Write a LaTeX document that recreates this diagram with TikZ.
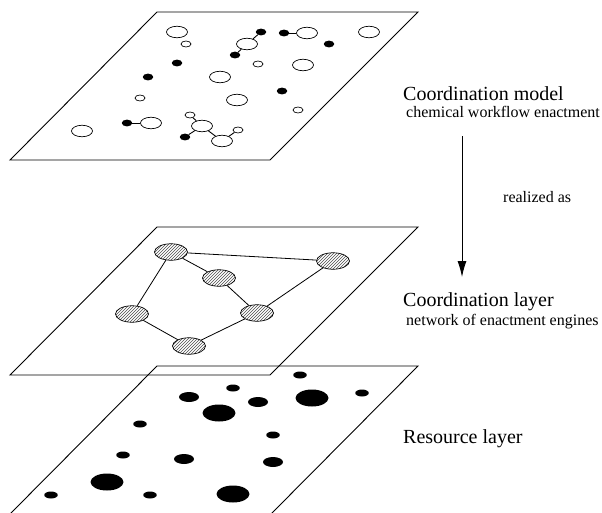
\documentclass[tikz,border=0pt]{standalone}
\usepackage{fontspec}
\setmainfont{Liberation Serif}
\usetikzlibrary{shapes.geometric,patterns,arrows.meta}
\begin{document}
\begin{tikzpicture}[x=1pt,y=-1pt,
  plane/.style={draw,line width=0.9pt},
  mol/.style={ellipse,draw,line width=0.7pt,inner sep=0pt,fill=white},
  opn/.style={mol,minimum width=21pt,minimum height=11.5pt},
  sml/.style={mol,minimum width=10pt,minimum height=6pt},
  blk/.style={ellipse,fill=black,inner sep=0pt,minimum width=10.5pt,minimum height=6.8pt},
  bond/.style={line width=0.9pt},
  hat/.style={ellipse,draw,line width=0.7pt,inner sep=0pt,minimum width=33pt,minimum height=16.5pt,pattern=north east lines,pattern color=black!70},
  link/.style={line width=0.8pt},
  rs/.style={ellipse,fill=black,inner sep=0pt,minimum width=13.5pt,minimum height=7pt},
  rm/.style={ellipse,fill=black,inner sep=0pt,minimum width=20pt,minimum height=10pt},
  rl/.style={ellipse,fill=black,inner sep=0pt,minimum width=33pt,minimum height=17pt},
  big/.style={font=\fontsize{20}{24}\selectfont,anchor=base west,inner sep=0pt},
  small/.style={font=\fontsize{16}{19}\selectfont,anchor=base west,inner sep=0pt}
]
\useasboundingbox (0,0) rectangle (602,512);
\clip (0,0) rectangle (602,512);
% planes
\draw[plane] (10,160) -- (157,12) -- (418,12) -- (270,160) -- cycle;
\draw[plane] (10,375) -- (157,227) -- (418,227) -- (270,375) -- cycle;
\draw[plane] (10,514) -- (157,366) -- (418,366) -- (271,514) -- cycle;

% top plane: molecules
\node[opn] (o1) at (177,32) {};
\node[sml] (s1) at (186,44) {};
\node[opn] (o2) at (247,44) {};
\node[blk] (b1) at (261,32) {};
\node[blk] (b2) at (235,55) {};
\node[blk] (b3) at (284,33) {};
\node[opn] (o3) at (307,33) {};
\node[opn] (o4) at (369,32) {};
\node[blk] (b4) at (329,44) {};
\node[blk] (b5) at (177,63) {};
\node[sml] (s2) at (258,64) {};
\node[opn] (o5) at (303,65) {};
\node[blk] (b6) at (148,77) {};
\node[opn] (o6) at (220,77) {};
\node[blk] (b7) at (282,91) {};
\node[sml] (s3) at (140,98) {};
\node[opn] (o7) at (237,100) {};
\node[sml] (s4) at (298,110) {};
\node[opn] (o8) at (82,131) {};
\node[blk] (b8) at (127,123) {};
\node[opn] (o9) at (151,123) {};
\node[sml] (s5) at (190,115) {};
\node[opn] (o10) at (202,126) {};
\node[blk] (b9) at (185,137) {};
\node[opn] (o11) at (222,141) {};
\node[sml] (s6) at (238,130) {};
\draw[bond] (o2) -- (b1);
\draw[bond] (o2) -- (b2);
\draw[bond] (b3) -- (o3);
\draw[bond] (b8) -- (o9);
\draw[bond] (s5) -- (o10);
\draw[bond] (b9) -- (o10);
\draw[bond] (o10) -- (o11);
\draw[bond] (o11) -- (s6);

% middle plane: network
\node[hat] (A) at (171,252) {};
\node[hat] (B) at (333,261) {};
\node[hat] (C) at (219,278) {};
\node[hat] (D) at (132,314) {};
\node[hat] (E) at (257,313) {};
\node[hat] (F) at (189,346) {};
\draw[link] (A) -- (B);
\draw[link] (A) -- (C);
\draw[link] (A) -- (D);
\draw[link] (C) -- (E);
\draw[link] (E) -- (B);
\draw[link] (D) -- (F);
\draw[link] (F) -- (E);

% bottom plane: resources
\node[rs] (r1) at (300,375) {};
\node[rs] (r2) at (233,388) {};
\node[rm] (r3) at (189,397) {};
\node[rm] (r4) at (258,402) {};
\node[rl] (r5) at (312,398) {};
\node[rs] (r6) at (362,393) {};
\node[rl] (r7) at (219,413) {};
\node[rs] (r8) at (140,424) {};
\node[rs] (r9) at (273,435) {};
\node[rs] (r10) at (123,455) {};
\node[rm] (r11) at (184,459) {};
\node[rm] (r12) at (273,462) {};
\node[rl] (r13) at (107,482) {};
\node[rs] (r14) at (51,495) {};
\node[rs] (r15) at (150,495) {};
\node[rl] (r16) at (233,494) {};

% labels
\node[big] (t1) at (403,100.5) {Coordination model};
\node[small] (t2) at (406,117) {chemical workflow enactment};
\node[small] (t3) at (503,202) {realized as};
\node[big] (t4) at (403,306) {Coordination layer};
\node[small] (t5) at (406,325) {network of enactment engines};
\node[big] (t6) at (403,443) {Resource layer};

\coordinate (arrS) at (462,136);
\coordinate (arrE) at (462,277);
\draw[line width=0.9pt,-{Latex[length=16pt,width=9pt]}] (arrS) -- (arrE);
\end{tikzpicture}
\end{document}
